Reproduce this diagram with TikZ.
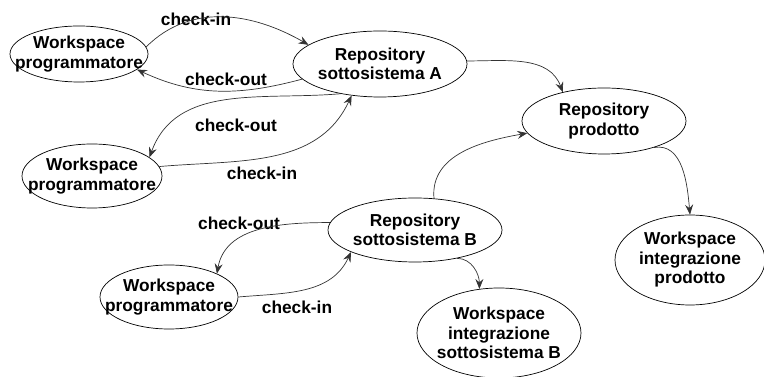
\documentclass[tikz,border=0pt]{standalone}
\usepackage{fontspec}
\setmainfont{Liberation Sans}
\usetikzlibrary{shapes.geometric,arrows.meta}
\tikzset{
  ell/.style 2 args={draw=black, line width=0.7pt, ellipse, inner sep=0pt,
    minimum width=#1, minimum height=#2},
  txt/.style={font=\fontsize{17.3}{19.5}\selectfont\bfseries, align=center, inner sep=0pt},
  conn/.style={draw=black!80, line width=0.7pt, -{Stealth[length=10pt,width=8pt,inset=3.5pt]}},
  lab/.style={font=\fontsize{17.3}{19.5}\selectfont\bfseries, inner sep=0pt}
}
\begin{document}
\begin{tikzpicture}[x=1pt,y=1pt]
\useasboundingbox (0,0) rectangle (764,377);
% nodes
\node[ell={138pt}{56pt}, label={[txt]center:{Workspace\\programmatore}}] (wp1) at (79,323) {};
\node[ell={174pt}{66pt}, label={[txt]center:{Repository\\sottosistema A}}] (repA) at (380,313) {};
\node[ell={164pt}{66pt}, label={[txt]center:{Repository\\prodotto}}] (repP) at (604,256) {};
\node[ell={140pt}{64pt}, label={[txt]center:{Workspace\\programmatore}}] (wp2) at (92,201) {};
\node[ell={174pt}{64pt}, label={[txt]center:{Repository\\sottosistema B}}] (repB) at (415,147) {};
\node[ell={138pt}{64pt}, label={[txt]center:{Workspace\\programmatore}}] (wp3) at (169,80) {};
\node[ell={164pt}{90pt}, label={[txt]center:{Workspace\\integrazione\\sottosistema B}}] (wis) at (499,44) {};
\node[ell={150pt}{90pt}, label={[txt]center:{Workspace\\integrazione\\prodotto}}] (wip) at (690,117) {};
% labels
\node[lab] (l1) at (196,358) {check-in};
\node[lab] (l2) at (226,298) {check-out};
\node[lab] (l3) at (236,252) {check-out};
\node[lab] (l4) at (262,204) {check-in};
\node[lab] (l5) at (239,154) {check-out};
\node[lab] (l6) at (297,70) {check-in};
% connectors
\draw[conn] (wp1.6) to[out=45,in=150] (repA.165);
\draw[conn] (repA.191) to[out=195,in=-25] (wp1.-15);
\draw[conn] (repA.217) to[out=185,in=70] (wp2.18);
\draw[conn] (wp2.8) to[out=5,in=-115] (repA.228);
\draw[conn] (repA.2) to[out=0,in=110] (repP.145);
\draw[conn] (repB.59) to[out=95,in=190] (repP.189);
\draw[conn] (repP.-28) to[out=10,in=95] (wip.90);
\draw[conn] (repB.175) to[out=180,in=80] (wp3.26);
\draw[conn] (wp3.0) to[out=5,in=-115] (repB.199);
\draw[conn] (repB.-34) to[out=0,in=90] (wis.114);
\end{tikzpicture}
\end{document}
